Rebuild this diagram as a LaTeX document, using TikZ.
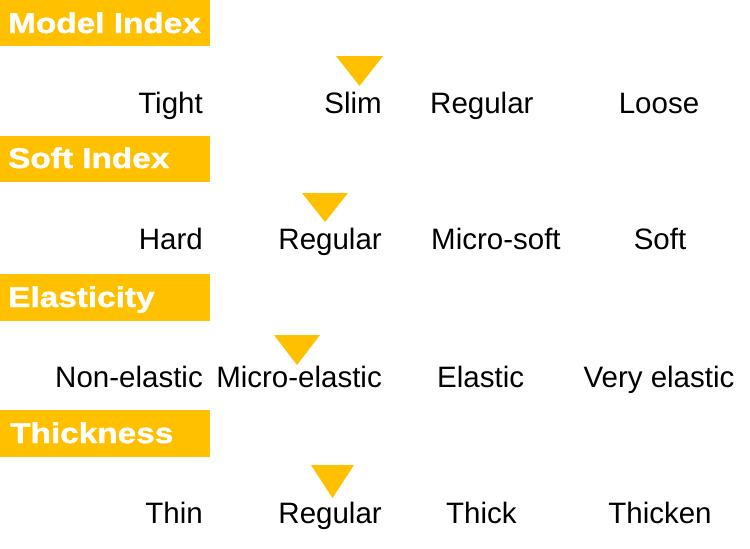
\documentclass[tikz,border=0pt]{standalone}
\usepackage{fontspec}
\setmainfont{Liberation Sans}
\newfontfamily\headfont[FakeBold=1.2]{Liberation Sans Bold}
\definecolor{gold}{HTML}{FFC000}
\begin{document}
\begin{tikzpicture}[x=1pt,y=-1pt,
  bar/.style={fill=gold},
  head/.style={inner sep=0pt,text=white,font=\fontsize{28.5}{30}\headfont},
  lbl/.style={inner sep=0pt,font=\fontsize{29.5}{31}\selectfont},
  pointer/.style={fill=gold}]
\useasboundingbox (0,0) rectangle (750,549);
% header bars
\fill[bar] (0,0) rectangle (210,46);
\fill[bar] (0,136) rectangle (210,182);
\fill[bar] (0,274) rectangle (210,321);
\fill[bar] (0,410) rectangle (210,457);
\node[head,anchor=base west] (h1) at (8,33) {\scalebox{1.17}[1]{Model Index}};
\node[head,anchor=base west] (h2) at (8,168) {\scalebox{1.17}[1]{Soft Index}};
\node[head,anchor=base west] (h3) at (8,307) {\scalebox{1.17}[1]{Elasticity}};
\node[head,anchor=base west] (h4) at (10,443) {\scalebox{1.17}[1]{Thickness}};
% row 1
\node[lbl,anchor=base east] (r1a) at (203,113) {Tight};
\node[lbl,anchor=base east] (r1b) at (382,113) {Slim};
\node[lbl,anchor=base west] (r1c) at (430,113) {Regular};
\node[lbl,anchor=base] (r1d) at (659,113) {Loose};
% row 2
\node[lbl,anchor=base east] (r2a) at (203,249) {Hard};
\node[lbl,anchor=base east] (r2b) at (382,249) {Regular};
\node[lbl,anchor=base west] (r2c) at (431,249) {Micro-soft};
\node[lbl,anchor=base] (r2d) at (660,249) {Soft};
% row 3
\node[lbl,anchor=base east] (r3a) at (203,387) {Non-elastic};
\node[lbl,anchor=base east] (r3b) at (382,387) {Micro-elastic};
\node[lbl,anchor=base west] (r3c) at (437,387) {Elastic};
\node[lbl,anchor=base] (r3d) at (659,387) {Very elastic};
% row 4
\node[lbl,anchor=base east] (r4a) at (203,523) {Thin};
\node[lbl,anchor=base east] (r4b) at (382,523) {Regular};
\node[lbl,anchor=base west] (r4c) at (446,523) {Thick};
\node[lbl,anchor=base] (r4d) at (660,523) {Thicken};
% triangles
\fill[pointer] (336,56) -- (383,56) -- (359.5,86) -- cycle;
\fill[pointer] (302,193) -- (348,193) -- (325,222) -- cycle;
\fill[pointer] (274,335) -- (320,335) -- (297,365) -- cycle;
\fill[pointer] (311,465) -- (354,465) -- (332.5,498) -- cycle;
\end{tikzpicture}
\end{document}
